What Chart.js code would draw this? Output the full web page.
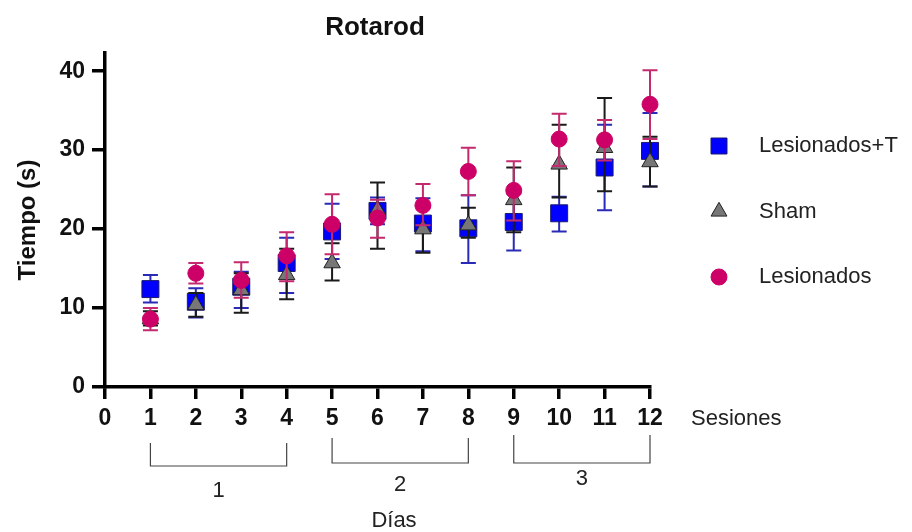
<!DOCTYPE html>
<html>
<head>
<meta charset="utf-8">
<script src="https://cdn.jsdelivr.net/npm/chart.js@4"></script>
<style>
  html, body { margin: 0; padding: 0; background: #fff; }
  #wrap { width: 912px; height: 532px; position: relative; }
</style>
</head>
<body>
<div id="wrap"><canvas id="rotarod" width="912" height="532"></canvas></div>
<script>
// --- data ---
const sessions = [1, 2, 3, 4, 5, 6, 7, 8, 9, 10, 11, 12];
const yTicks = [0, 10, 20, 30, 40];

// Lesionados+T
const lesTMean = [12.4, 10.8, 12.7, 15.7, 19.7, 22.3, 20.7, 20.1, 20.9, 22.0, 27.8, 29.9];
const lesTHigh = [14.2, 12.5, 14.6, 18.9, 23.2, 24.0, 23.9, 24.3, 24.5, 24.1, 33.2, 34.7];
const lesTLow  = [10.7, 8.8, 10.0, 11.9, 16.2, 20.6, 17.2, 15.7, 17.3, 19.7, 22.4, 25.4];

// Sham
const shamMean = [8.6, 10.4, 12.3, 14.2, 15.7, 22.4, 20.0, 20.5, 23.7, 28.2, 30.3, 28.5];
const shamHigh = [9.6, 11.9, 14.4, 17.5, 18.2, 25.9, 23.0, 22.7, 27.8, 33.2, 36.6, 31.7];
const shamLow  = [7.8, 8.9, 9.4, 11.1, 13.5, 17.5, 17.0, 18.9, 19.6, 24.0, 24.8, 25.4];

// Lesionados
const lesMean = [8.6, 14.4, 13.5, 16.6, 20.6, 21.4, 23.0, 27.3, 24.9, 31.4, 31.3, 35.8];
const lesHigh = [10.0, 15.7, 15.8, 19.6, 24.4, 23.7, 25.7, 30.3, 28.6, 34.6, 33.8, 40.1];
const lesLow  = [7.2, 13.1, 11.3, 13.4, 16.8, 18.9, 20.5, 24.3, 21.1, 28.0, 28.7, 31.4];

// days grouping under the x axis
const dayLabels = ['1', '2', '3'];
const dayFrom = [1, 5, 9];
const dayTo = [4, 8, 12];

const FONT = '"Liberation Sans", Arial, sans-serif';

const pts = (xs, ys) => xs.map((x, i) => ({ x: x, y: ys[i] }));

// error bars drawn under each dataset's own markers
const errorBars = {
    id: 'errorBars',
    beforeDatasetDraw(chart, args) {
        const ds = chart.data.datasets[args.index];
        if (!ds.errHigh) return;
        const xs = chart.scales.x, ys = chart.scales.y, ctx = chart.ctx;
        ctx.save();
        ctx.strokeStyle = ds.errColor;
        ctx.lineWidth = 2;
        ds.data.forEach((p, i) => {
            const px = xs.getPixelForValue(p.x);
            const top = ys.getPixelForValue(ds.errHigh[i]);
            const bot = ys.getPixelForValue(ds.errLow[i]);
            ctx.beginPath();
            ctx.moveTo(px, top); ctx.lineTo(px, bot);
            ctx.moveTo(px - 7.5, top); ctx.lineTo(px + 7.5, top);
            ctx.moveTo(px - 7.5, bot); ctx.lineTo(px + 7.5, bot);
            ctx.stroke();
        });
        ctx.restore();
    }
};

// title, legend, "Sesiones", day brackets, "Días"
const extras = {
    id: 'extras',
    afterDraw(chart) {
        const ctx = chart.ctx, xs = chart.scales.x;
        ctx.save();
        ctx.fillStyle = '#111';
        ctx.textAlign = 'center';
        ctx.textBaseline = 'middle';
        ctx.font = 'bold 26px ' + FONT;
        ctx.fillText('Rotarod', 375, 28);

        // legend
        [0, 1, 2].forEach((di, k) => {
            const ds = chart.data.datasets[di];
            const y = 146 + k * 65.5;
            ctx.fillStyle = ds.backgroundColor;
            ctx.strokeStyle = ds.borderColor;
            ctx.lineWidth = 1;
            Chart.helpers.drawPoint(ctx, { pointStyle: ds.pointStyle, radius: ds.legendRadius, rotation: 0, borderWidth: 1 }, 719, y);
            ctx.fillStyle = '#222';
            ctx.font = '22px ' + FONT;
            ctx.textAlign = 'left';
            ctx.fillText(ds.label, 759, y);
        });

        ctx.fillStyle = '#222';
        ctx.font = '22px ' + FONT;
        ctx.textAlign = 'left';
        ctx.fillText('Sesiones', 691, 419);

        // day brackets
        ctx.strokeStyle = '#444';
        ctx.lineWidth = 1.2;
        const tops = [443, 438, 435], bots = [466, 463, 463], labY = [491, 485, 479];
        dayLabels.forEach((lab, i) => {
            const a = xs.getPixelForValue(dayFrom[i]);
            const b = xs.getPixelForValue(dayTo[i]);
            ctx.beginPath();
            ctx.moveTo(a, tops[i]); ctx.lineTo(a, bots[i]);
            ctx.lineTo(b, bots[i]); ctx.lineTo(b, tops[i]);
            ctx.stroke();
            ctx.textAlign = 'center';
            ctx.font = '22px ' + FONT;
            ctx.fillText(lab, (a + b) / 2, labY[i]);
        });
        ctx.font = '22px ' + FONT;
        ctx.fillText('Días', 394, 521);
        ctx.restore();
    }
};

const ctx = document.getElementById('rotarod').getContext('2d');
new Chart(ctx, {
    type: 'scatter',
    data: {
        datasets: [{
            label: 'Lesionados+T',
            data: pts(sessions, lesTMean),
            errHigh: lesTHigh, errLow: lesTLow,
            errColor: '#2a2ab8',
            pointStyle: 'rect',
            pointRadius: 12,
            legendRadius: 11.3,
            backgroundColor: '#0000ff',
            borderColor: '#1a1a70',
            borderWidth: 1,
            clip: false,
            order: 3
        }, {
            label: 'Sham',
            data: pts(sessions, shamMean),
            errHigh: shamHigh, errLow: shamLow,
            errColor: '#1a1a1a',
            pointStyle: 'triangle',
            pointRadius: 9.5,
            legendRadius: 9.2,
            backgroundColor: '#777777',
            borderColor: '#222222',
            borderWidth: 1,
            clip: false,
            order: 2
        }, {
            label: 'Lesionados',
            data: pts(sessions, lesMean),
            errHigh: lesHigh, errLow: lesLow,
            errColor: '#c42a6e',
            pointStyle: 'circle',
            pointRadius: 8,
            legendRadius: 8,
            backgroundColor: '#cc0066',
            borderColor: '#cc0066',
            borderWidth: 1,
            clip: false,
            order: 1
        }]
    },
    options: {
        responsive: false,
        animation: false,
        devicePixelRatio: 1,
        layout: { padding: { left: 0, top: 53, right: 262, bottom: 0 } },
        plugins: {
            legend: { display: false },
            title: { display: false },
            tooltip: { enabled: false }
        },
        scales: {
            x: {
                type: 'linear',
                min: 0, max: 12,
                afterFit: (s) => { s.height = 145; },
                border: { display: true, color: '#000', width: 3.5 },
                grid: { display: true, drawOnChartArea: false, drawTicks: true, tickLength: 12, color: '#000', lineWidth: 3.5 },
                ticks: { stepSize: 1, padding: 6, color: '#111', font: { family: FONT, size: 23, weight: 'bold' } }
            },
            y: {
                min: 0, max: 42.3,
                afterFit: (s) => { s.width = 105; },
                afterBuildTicks: (s) => { s.ticks = yTicks.map(v => ({ value: v })); },
                border: { display: true, color: '#000', width: 3.5 },
                grid: { display: true, drawOnChartArea: false, drawTicks: true, tickLength: 13, color: '#000', lineWidth: 3.5 },
                ticks: { padding: 7, color: '#111', font: { family: FONT, size: 23, weight: 'bold' } },
                title: { display: true, text: 'Tiempo (s)', color: '#111', padding: { top: 14 }, font: { family: FONT, size: 24, weight: 'bold' } }
            }
        }
    },
    plugins: [errorBars, extras]
});
</script>
</body>
</html>
